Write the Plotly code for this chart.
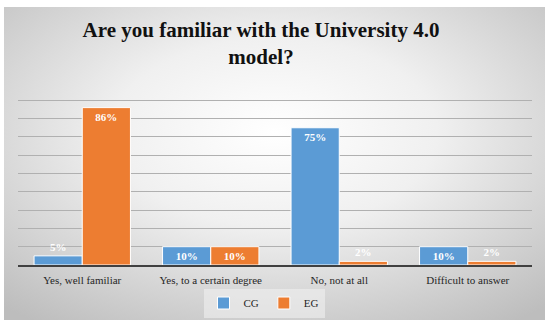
import plotly.graph_objects as go

categories = ["Yes, well familiar", "Yes, to a certain degree", "No, not at all", "Difficult to answer"]
cg_values = [5, 10, 75, 10]
eg_values = [86, 10, 2, 2]
series_names = ["CG", "EG"]
colors = ["#5B9BD5", "#ED7D31"]

W, H = 550, 326
L, R, T, B = 18, 18, 82, 61

serif = "Liberation Serif"

fig = go.Figure()
for name, vals, col in zip(series_names, [cg_values, eg_values], colors):
    fig.add_trace(go.Bar(
        x=categories, y=vals, name=name,
        marker=dict(color=col, line=dict(color="white", width=1)),
        text=[f"{v}%" for v in vals],
        textposition=["inside" if v >= 10 else "outside" for v in vals],
        insidetextanchor="end",
        textfont=dict(family=serif, size=11, color="white", weight="bold"),
        outsidetextfont=dict(family=serif, size=11, color="white", weight="bold"),
        textangle=0, cliponaxis=False,
    ))

svg = ("data:image/svg+xml;utf8,"
       "<svg xmlns='http://www.w3.org/2000/svg' width='541' height='313'>"
       "<defs><radialGradient id='g' cx='50%' cy='40%' r='75%'>"
       "<stop offset='0%' stop-color='%23ffffff'/>"
       "<stop offset='40%' stop-color='%23f0f0f0'/>"
       "<stop offset='100%' stop-color='%23bdbdbd'/>"
       "</radialGradient></defs>"
       "<rect width='541' height='313' fill='url(%23g)'/></svg>")

pw, ph = W - L - R, H - T - B
x0 = (4 - L) / pw
y0 = (H - 7 - B) / ph  # top in paper units
fig.add_layout_image(dict(
    source=svg, xref="paper", yref="paper",
    x=x0, y=y0, sizex=(545 - 4) / pw, sizey=(320 - 7) / ph,
    xanchor="left", yanchor="top", sizing="stretch", layer="below",
))

fig.update_layout(
    width=W, height=H,
    margin=dict(l=L, r=R, t=T, b=B, autoexpand=False),
    paper_bgcolor="white",
    plot_bgcolor="rgba(0,0,0,0)",
    barmode="group", bargap=0.25, bargroupgap=0.0,
    title=dict(
        text="<b>Are you familiar with the University 4.0<br>model?</b>",
        font=dict(family=serif, size=21, color="#111111"),
        x=261 / W, xanchor="center", y=1 - 37 / H, yanchor="top",
    ),
    xaxis=dict(
        showline=True, linecolor="#404040", linewidth=2,
        tickfont=dict(family=serif, size=11, color="#262626"),
        showgrid=False, ticks="", ticklabelstandoff=4,
    ),
    yaxis=dict(
        range=[0, 100], dtick=10, showticklabels=False,
        showgrid=True, gridcolor="#b0b0b0", gridwidth=1,
        zeroline=False,
    ),
    legend=dict(
        orientation="h", x=(264 - L) / pw, xanchor="center",
        y=(265 - 303) / ph, yanchor="middle",
        font=dict(family=serif, size=11, color="#262626"),
        bgcolor="rgba(240,240,240,0.6)",
        itemwidth=30, tracegroupgap=0,
    ),
    showlegend=True,
)

fig.write_html("out.html", config={"displayModeBar": False},
               post_script="document.body.style.margin='0';")
